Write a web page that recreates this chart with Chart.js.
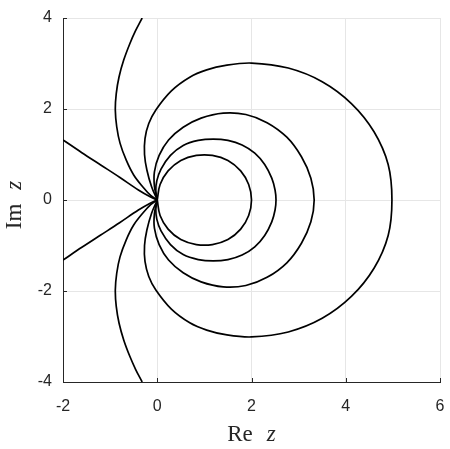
<!DOCTYPE html>
<html>
<head>
<meta charset="utf-8">
<script src="https://cdn.jsdelivr.net/npm/chart.js@4.4.1/dist/chart.umd.min.js"></script>
<style>
  html, body { margin: 0; padding: 0; background: #fff; }
  #wrap { width: 450px; height: 449px; }
</style>
</head>
<body>
<div id="wrap"><canvas id="chart" width="450" height="449"></canvas></div>
<script>
// curves (Re z, Im z)
const loop1Re = [0, 0.06, 0.23, 0.5, 0.83, 1.17, 1.5, 1.77, 1.94, 2.0, 1.94, 1.77, 1.5, 1.17, 0.83, 0.5, 0.23, 0.06, 0];
const loop1Im = [0, 0.34, 0.64, 0.87, 0.98, 0.98, 0.87, 0.64, 0.34, 0, -0.34, -0.64, -0.87, -0.98, -0.98, -0.87, -0.64, -0.34, 0];

const loop2Re = [0, -0.03, -0.01, 0.08, 0.28, 0.55, 0.87, 1.19, 1.5, 1.8, 2.07, 2.28, 2.43, 2.5, 2.52,
                 2.5, 2.43, 2.28, 2.07, 1.8, 1.5, 1.19, 0.87, 0.55, 0.28, 0.08, -0.01, -0.03, 0];
const loop2Im = [0, 0.2, 0.42, 0.68, 0.98, 1.2, 1.31, 1.34, 1.31, 1.21, 1.03, 0.78, 0.48, 0.22, 0,
                 -0.22, -0.48, -0.78, -1.03, -1.21, -1.31, -1.34, -1.31, -1.2, -0.98, -0.68, -0.42, -0.2, 0];

const loop3Re = [0, -0.06, -0.06, 0.04, 0.24, 0.55, 0.93, 1.4, 1.88, 2.33, 2.75, 3.06, 3.26, 3.33,
                 3.26, 3.06, 2.75, 2.33, 1.88, 1.4, 0.93, 0.55, 0.24, 0.04, -0.06, -0.06, 0];
const loop3Im = [0, 0.3, 0.62, 0.98, 1.32, 1.6, 1.8, 1.91, 1.88, 1.7, 1.38, 0.95, 0.48, 0,
                 -0.48, -0.95, -1.38, -1.7, -1.88, -1.91, -1.8, -1.6, -1.32, -0.98, -0.62, -0.3, 0];

const loop4Re = [0, -0.12, -0.22, -0.27, -0.26, -0.18, -0.03, 0.3, 0.69, 1.05, 1.45, 2.0, 2.78, 3.5, 4.12, 4.6, 4.9, 4.98,
                 4.9, 4.6, 4.12, 3.5, 2.78, 2.0, 1.45, 1.05, 0.69, 0.3, -0.03, -0.18, -0.26, -0.27, -0.22, -0.12, 0];
const loop4Im = [0, 0.29, 0.66, 1.0, 1.35, 1.68, 1.98, 2.4, 2.7, 2.86, 2.96, 3.01, 2.9, 2.6, 2.12, 1.5, 0.78, 0,
                 -0.78, -1.5, -2.12, -2.6, -2.9, -3.01, -2.96, -2.86, -2.7, -2.4, -1.98, -1.68, -1.35, -1.0, -0.66, -0.29, 0];

// open curves, each drawn as an upper and a lower branch meeting at 0
const arcUpRe = [-0.32, -0.46, -0.58, -0.71, -0.81, -0.87, -0.89, -0.86, -0.79, -0.66, -0.5, -0.3, -0.14, 0];
const arcUpIm = [4, 3.72, 3.44, 3.08, 2.71, 2.34, 1.98, 1.61, 1.25, 0.88, 0.55, 0.28, 0.1, 0];
const arcDownRe = [-0.32, -0.46, -0.58, -0.71, -0.81, -0.87, -0.89, -0.86, -0.79, -0.66, -0.5, -0.3, -0.14, 0];
const arcDownIm = [-4, -3.72, -3.44, -3.08, -2.71, -2.34, -1.98, -1.61, -1.25, -0.88, -0.55, -0.28, -0.1, 0];

const rayUpRe = [-2.0, -1.6, -1.2, -0.8, -0.4, -0.15, 0];
const rayUpIm = [1.32, 1.04, 0.77, 0.5, 0.22, 0.07, 0];
const rayDownRe = [-2.0, -1.6, -1.2, -0.8, -0.4, -0.15, 0];
const rayDownIm = [-1.32, -1.04, -0.77, -0.5, -0.22, -0.07, 0];

const xTicks = [-2, 0, 2, 4, 6];
const yTicks = [-4, -2, 0, 2, 4];

const curves = [
    [loop1Re, loop1Im], [loop2Re, loop2Im], [loop3Re, loop3Im], [loop4Re, loop4Im],
    [arcUpRe, arcUpIm], [arcDownRe, arcDownIm], [rayUpRe, rayUpIm], [rayDownRe, rayDownIm]
];

const axisColor = '#262626';
const tickFont = { family: '"Liberation Sans", Arial, sans-serif', size: 16 };

function pairs(re, im) {
    return re.map((x, i) => ({ x: x, y: im[i] }));
}

// inward tick marks + the "Re z" / "Im z" labels with an italic z
const axisExtras = {
    id: 'axisExtras',
    afterDraw(chart) {
        const ctx = chart.ctx;
        const area = chart.chartArea;
        const xs = chart.scales.x;
        const ys = chart.scales.y;
        ctx.save();
        ctx.strokeStyle = axisColor;
        ctx.lineWidth = 1;
        ctx.beginPath();
        xTicks.forEach(v => {
            const p = Math.round(xs.getPixelForValue(v)) + 0.5;
            ctx.moveTo(p, area.bottom);
            ctx.lineTo(p, area.bottom - 4);
        });
        yTicks.forEach(v => {
            const p = Math.round(ys.getPixelForValue(v)) + 0.5;
            ctx.moveTo(area.left, p);
            ctx.lineTo(area.left + 4, p);
        });
        ctx.stroke();

        ctx.fillStyle = axisColor;
        ctx.textBaseline = 'alphabetic';
        const upright = '23px "Liberation Serif", "DejaVu Serif", serif';
        const slanted = 'italic 23px "Liberation Serif", "DejaVu Serif", serif';
        const gap = 14;

        function mathLabel(name, cx, cy) {
            ctx.font = upright;
            const w1 = ctx.measureText(name).width;
            ctx.font = slanted;
            const w2 = ctx.measureText('z').width;
            const start = cx - (w1 + gap + w2) / 2;
            ctx.font = upright;
            ctx.fillText(name, start, cy);
            ctx.font = slanted;
            ctx.fillText('z', start + w1 + gap, cy);
        }

        mathLabel('Re', (area.left + area.right) / 2, 441);

        ctx.translate(21, 205);
        ctx.rotate(-Math.PI / 2);
        mathLabel('Im', 0, 0);
        ctx.restore();
    }
};

function createChart() {
    const ctx = document.getElementById('chart');

    new Chart(ctx, {
        type: 'scatter',
        data: {
            datasets: curves.map(c => ({
                data: pairs(c[0], c[1]),
                showLine: true,
                borderColor: '#000',
                borderWidth: 1.7,
                pointRadius: 0,
                tension: 0.35,
                fill: false
            }))
        },
        options: {
            responsive: false,
            animation: false,
            layout: { padding: { top: 18, right: 10, left: 0, bottom: 0 } },
            plugins: {
                legend: { display: false },
                tooltip: { enabled: false }
            },
            scales: {
                x: {
                    type: 'linear',
                    min: -2,
                    max: 6,
                    afterBuildTicks: s => { s.ticks = xTicks.map(v => ({ value: v })); },
                    afterFit: s => { s.height = 67; s.paddingLeft = 0; s.paddingRight = 0; },
                    grid: { color: '#e6e6e6', drawTicks: false },
                    border: { color: axisColor, width: 1 },
                    ticks: { color: axisColor, padding: 15, font: tickFont }
                },
                y: {
                    type: 'linear',
                    min: -4,
                    max: 4,
                    afterBuildTicks: s => { s.ticks = yTicks.map(v => ({ value: v })); },
                    afterFit: s => { s.width = 63; s.paddingTop = 0; s.paddingBottom = 0; },
                    grid: { color: '#e6e6e6', drawTicks: false },
                    border: { color: axisColor, width: 1 },
                    ticks: { color: axisColor, padding: 11, font: tickFont }
                }
            }
        },
        plugins: [axisExtras]
    });
}

createChart();
</script>
</body>
</html>
